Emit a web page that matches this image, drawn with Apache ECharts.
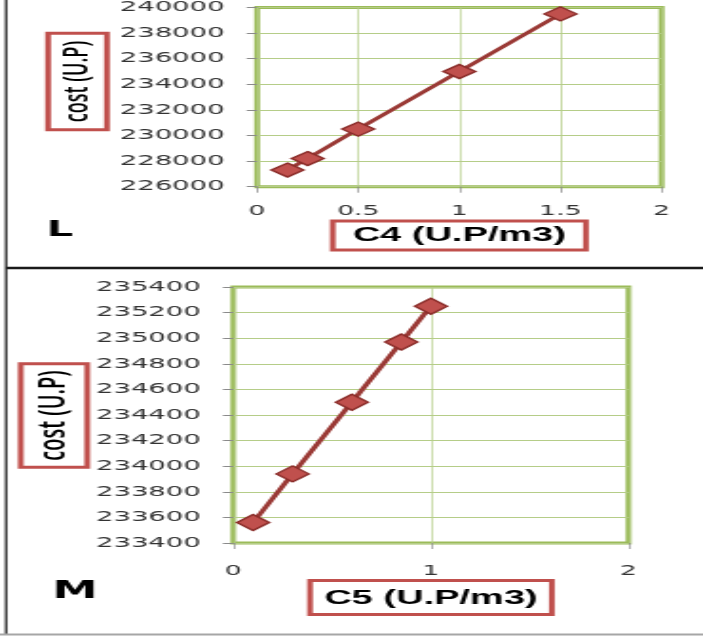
<!DOCTYPE html>
<html>
<head>
<meta charset="utf-8">
<script src="https://cdn.jsdelivr.net/npm/echarts@6/dist/echarts.min.js"></script>
<style>
  html, body { margin: 0; padding: 0; background: #fff; overflow: hidden; }
  /* the source picture is stretched sideways, so the chart is drawn narrow and widened */
  #chart { width: 370px; height: 636px; transform: scaleX(1.9); transform-origin: 0 0; }
</style>
</head>
<body>
<div id="chart"></div>
<script>
// panel L
const c4 = [0.15, 0.25, 0.5, 1, 1.5];
const costL = [227300, 228200, 230500, 235000, 239500];
// panel M
const c5 = [0.1, 0.3, 0.6, 0.85, 1];
const costM = [233560, 233940, 234500, 234970, 235250];

const GREEN = "#9BBB59";
const GRID_LINE = "#B5CD88";
const LINE_RED = "#9A3935";
const MARK_RED = "#C0504D";
const MARK_EDGE = "#8B2D2A";
const TICK = "#8a8a8a";
const LABEL = "#333333";

const chart = echarts.init(document.getElementById("chart"), null, { renderer: "canvas" });

function xAxisOf(gridIndex, max, interval, title, gap, pad) {
  return {
    gridIndex, type: "value", min: 0, max, interval,
    axisLine: { show: false },
    axisTick: { show: true, length: 6, lineStyle: { color: TICK, width: 0.7 } },
    axisLabel: {
      color: LABEL, fontFamily: "DejaVu Sans", fontSize: 14, margin: gridIndex ? 21 : 18,
      formatter: (v) => String(v),
    },
    splitLine: { show: true, lineStyle: { color: GRID_LINE, width: 0.7 } },
    name: title,
    nameLocation: "middle",
    nameGap: gap,
    nameTextStyle: {
      color: "#000", fontFamily: "Liberation Sans", fontWeight: "bold", fontSize: 20,
      borderColor: MARK_RED, borderWidth: 3, padding: pad, backgroundColor: "#fff",
    },
  };
}

function yAxisOf(gridIndex, min, max, interval) {
  return {
    gridIndex, type: "value", min, max, interval,
    axisLine: { show: false },
    axisTick: { show: true, length: 5.5, lineStyle: { color: TICK } },
    axisLabel: {
      color: LABEL, fontFamily: "DejaVu Sans", fontSize: 14.5, margin: 17,
      formatter: (v) => String(v),
    },
    splitLine: { show: true, lineStyle: { color: GRID_LINE, width: 1 } },
  };
}

function seriesOf(idx, xs, ys, size) {
  return {
    type: "line",
    xAxisIndex: idx, yAxisIndex: idx,
    data: xs.map((x, i) => [x, ys[i]]),
    symbol: "diamond",
    symbolSize: size,
    showSymbol: true,
    lineStyle: { color: LINE_RED, width: 3 },
    itemStyle: { color: MARK_RED, borderColor: MARK_EDGE, borderWidth: 1.4 },
    animation: false,
    z: 5,
  };
}

function yTitle(cx, cy, size, pad) {
  return {
    type: "text", x: cx, y: cy, rotation: Math.PI / 2, z: 10,
    style: {
      text: "cost (U.P)", fill: "#000", fontFamily: "Open Sans", fontWeight: 600, fontSize: size,
      align: "center", verticalAlign: "middle",
      backgroundColor: "#fff", borderColor: MARK_RED, borderWidth: 3, padding: pad,
    },
  };
}

chart.setOption({
  animation: false,
  grid: [
    { left: 135.3, top: 2.7, width: 212.9, height: 184, show: true, borderColor: GREEN, borderWidth: 3 },
    { left: 122.8, top: 287, width: 208, height: 256, show: true, borderColor: GREEN, borderWidth: 3 },
  ],
  xAxis: [
    xAxisOf(0, 2, 0.5, "C4 (U.P/m3)", 32, [3, 9, 3, 9]),
    xAxisOf(1, 2, 1, "C5 (U.P/m3)", 39, [6, 6, 5, 6]),
  ],
  yAxis: [
    yAxisOf(0, 226000, 240000, 2000),
    yAxisOf(1, 233400, 235400, 200),
  ],
  series: [
    seriesOf(0, c4, costL, [17, 14]),
    seriesOf(1, c5, costM, [17, 16]),
  ],
  graphic: [
    { type: "line", shape: { x1: 3.2, y1: 0, x2: 3.2, y2: 634 }, style: { stroke: "#111", lineWidth: 1.2 } },
    { type: "line", shape: { x1: 3.2, y1: 268, x2: 370, y2: 268 }, style: { stroke: "#1a1a1a", lineWidth: 2.6 } },
    { type: "line", shape: { x1: 0, y1: 634.5, x2: 370, y2: 634.5 }, style: { stroke: "#a6a6a6", lineWidth: 2 } },
    yTitle(40.8, 81.5, 18, [5, 6, 5, 6]),
    yTitle(28.4, 415.5, 20, [6, 5, 6, 5]),
    {
      type: "text", left: 24.5, top: 219,
      style: { text: "L", fill: "#000", fontFamily: "DejaVu Sans", fontWeight: "bold", fontSize: 22 },
    },
    {
      type: "text", left: 27.5, top: 580,
      style: { text: "M", fill: "#000", fontFamily: "DejaVu Sans", fontWeight: "bold", fontSize: 24 },
    },
  ],
});
</script>
</body>
</html>
